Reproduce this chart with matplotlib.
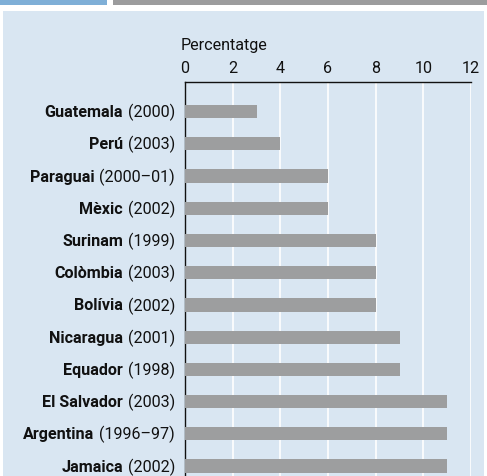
import matplotlib.pyplot as plt
from matplotlib.patches import Rectangle
from matplotlib import font_manager

countries = ['Guatemala', 'Perú', 'Paraguai', 'Mèxic', 'Surinam', 'Colòmbia',
             'Bolívia', 'Nicaragua', 'Equador', 'El Salvador', 'Argentina', 'Jamaica']
years = ['(2000)', '(2003)', '(2000–01)', '(2002)', '(1999)', '(2003)',
         '(2002)', '(2001)', '(1998)', '(2003)', '(1996–97)', '(2002)']
values = [3, 4, 6, 6, 8, 8, 8, 9, 9, 11, 11, 11]
xticks = [0, 2, 4, 6, 8, 10, 12]

names = {f.name for f in font_manager.fontManager.ttflist}
fam = 'Liberation Sans Narrow' if 'Liberation Sans Narrow' in names else 'Roboto'
plt.rcParams['font.family'] = [fam, 'DejaVu Sans']
FS = 11.6

W, H = 487, 477
fig = plt.figure(figsize=(W / 100, H / 100), dpi=100)
fig.patch.set_facecolor('white')

# header strips and panel (behind everything)
for rect in [Rectangle((0, 1 - 6 / H), 107 / W, 6 / H, facecolor='#7fafd7'),
             Rectangle((113 / W, 1 - 6 / H), 1, 6 / H, facecolor='#9c9c9d'),
             Rectangle((3 / W, 0), 481 / W, 1 - 12 / H, facecolor='#d9e6f2')]:
    rect.set_transform(fig.transFigure)
    rect.set_edgecolor('none')
    rect.set_zorder(-10)
    fig.patches.append(rect)

ax = fig.add_axes([185 / W, 0, 286 / W, 1 - 83 / H])
ax.set_facecolor('none')
pos = list(range(len(countries)))
ax.barh(pos, values, height=0.41, color='#9d9e9f', zorder=3)
ax.set_xlim(0, 12)
ax.set_ylim(11.31, -0.92)
ax.set_xticks(xticks)
ax.xaxis.tick_top()
ax.tick_params(axis='x', length=0, pad=5, labelsize=FS, labelcolor='#111111')
ax.set_yticks([])
ax.grid(axis='x', color='white', linewidth=1.2, zorder=1)
for s in ['right', 'bottom']:
    ax.spines[s].set_visible(False)
for s in ['left', 'top']:
    ax.spines[s].set_linewidth(1.0)
    ax.spines[s].set_color('#111111')

ax.text(-0.17, -1.945, 'Percentatge', fontsize=FS, ha='left', va='baseline',
        color='#111111')

for i in pos:
    t = ax.text(-0.42, i, years[i], ha='right', va='center', fontsize=FS,
                color='#111111')
    ax.annotate(countries[i], xy=(0, 0.5), xycoords=t, xytext=(-3.5, 0),
                textcoords='offset points', ha='right', va='center',
                fontsize=FS, fontweight='bold', color='#111111')

fig.savefig('out.png', dpi=100)
